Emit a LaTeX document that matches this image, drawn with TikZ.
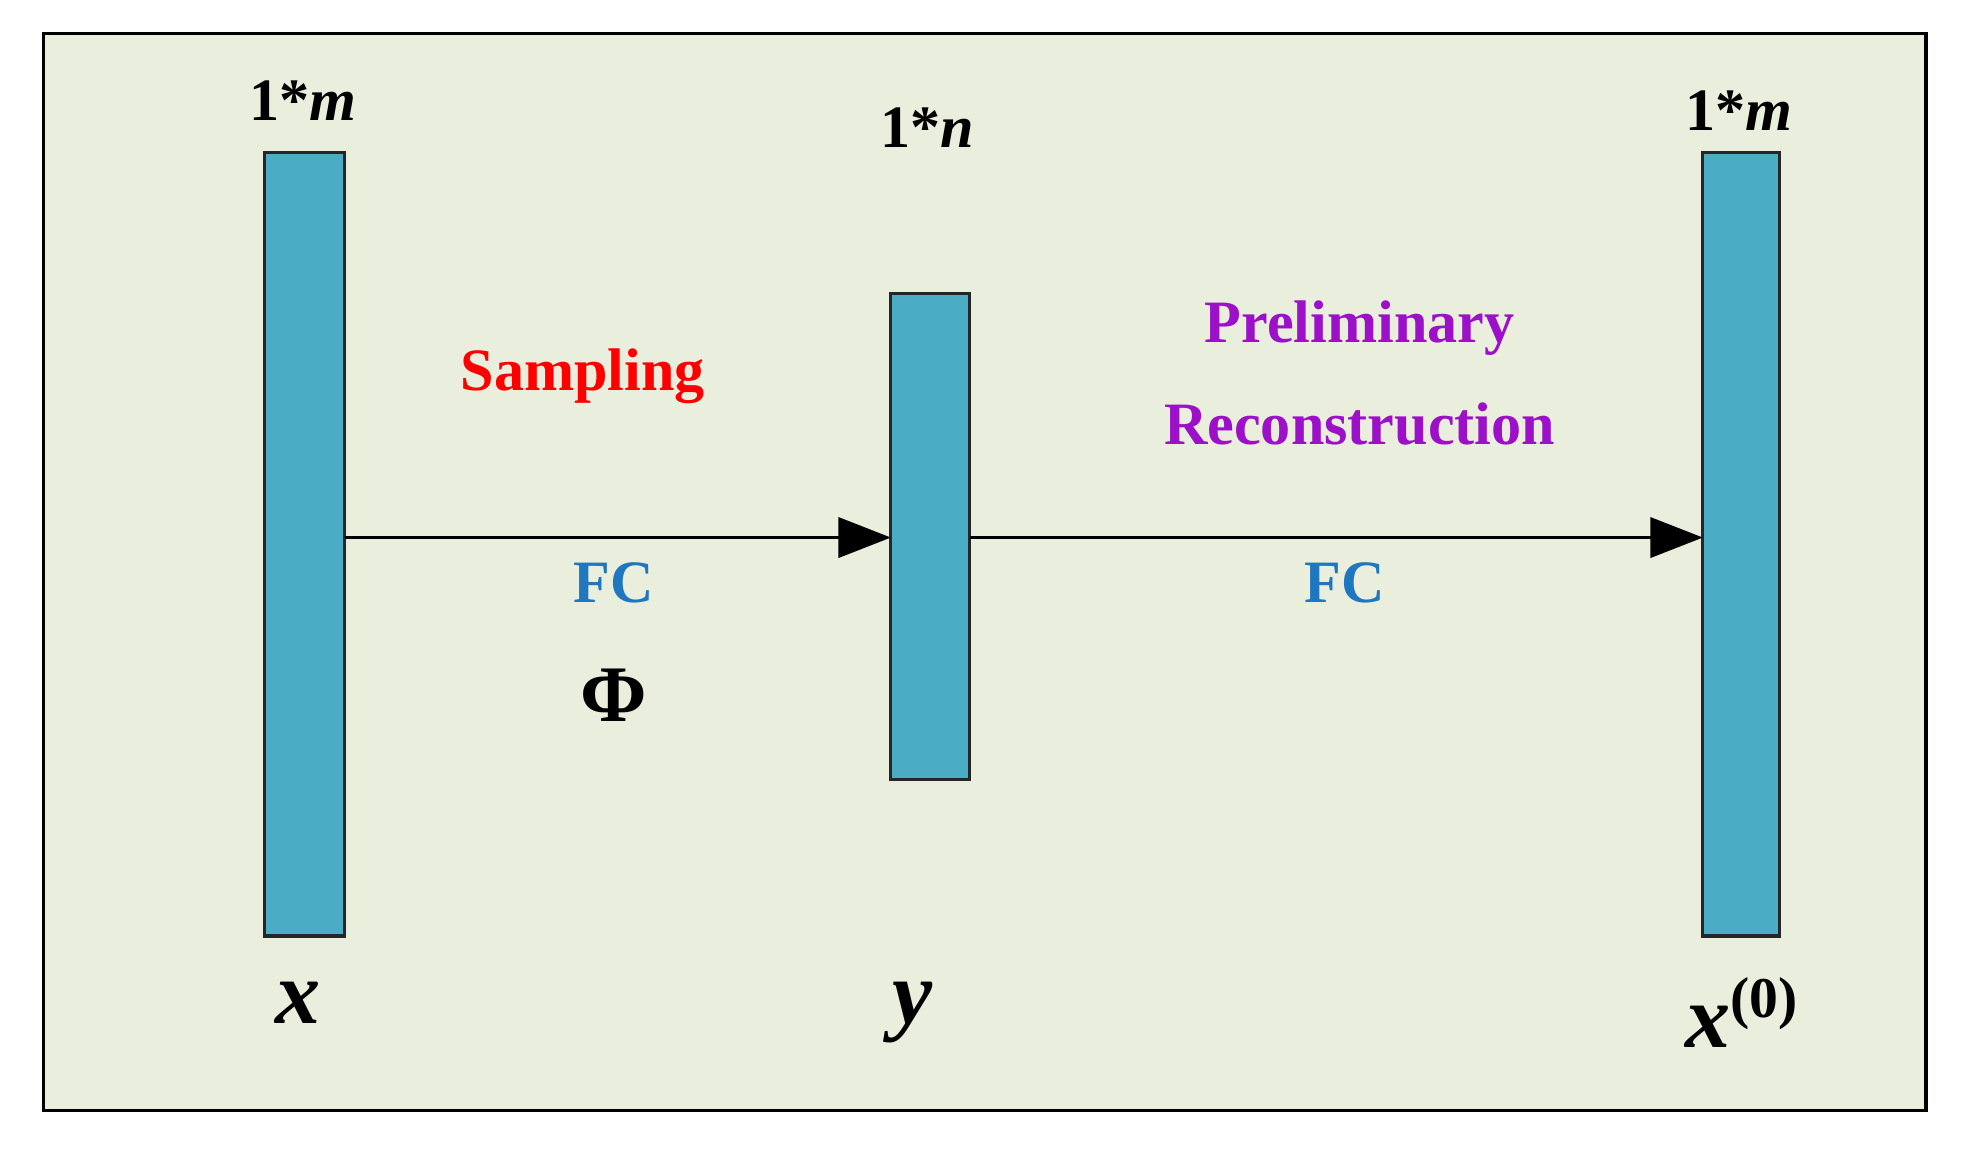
\documentclass[tikz,border=0pt]{standalone}
\usepackage{fontspec}
\setmainfont{Liberation Serif}
\usetikzlibrary{arrows.meta}
\definecolor{bg}{HTML}{EAEEDD}
\definecolor{bar}{HTML}{4BACC6}
\definecolor{fcblue}{HTML}{1F77C0}
\definecolor{purp}{HTML}{9B10C8}
\tikzset{
  barbox/.style={draw=black!85, line width=2.5pt, fill=bar},
  lbl/.style={font=\fontsize{48}{52}\selectfont\bfseries},
  var/.style={font=\fontsize{72}{76}\selectfont\bfseries\itshape},
  arr/.style={line width=3pt, -{Triangle[length=42pt,width=32pt]}}
}
\begin{document}
\begin{tikzpicture}[x=1pt,y=-1pt]
\useasboundingbox (0,0) rectangle (1565,917);
\draw[fill=bg, line width=2.5pt] (35,27) rectangle (1537,886);
\path[barbox] (211,122) rectangle (275,747);
\path[barbox] (711,234) rectangle (774,622);
\path[barbox] (1359,122) rectangle (1420,747);
\coordinate (a1) at (275,429);
\coordinate (b1) at (711,429);
\coordinate (a2) at (774,429);
\coordinate (b2) at (1359,429);
\draw[arr] (a1) -- (b1);
\draw[arr] (a2) -- (b2);
\node[lbl] (m1) at (242,80) {1*\textit{m}};
\node[lbl] (n1) at (740,102) {1*\textit{n}};
\node[lbl] (m2) at (1388,88) {1*\textit{m}};
\node[lbl, text=red] (s) at (465,300) {Sampling};
\node[lbl, text=purp] (p) at (1085,262) {Preliminary};
\node[lbl, text=purp] (r) at (1085,338) {Reconstruction};
\node[lbl, text=fcblue] (f1) at (490,465) {FC};
\node[lbl, text=fcblue] (f2) at (1073,465) {FC};
\node[font=\fontsize{64}{68}\selectfont\bfseries] (phi) at (490,555) {Φ};
\node[var] (x) at (238,800) {x};
\node[var] (y) at (728,808) {y};
\node[var] (x0) at (1390,808) {x\raisebox{24pt}{\fontsize{46}{50}\selectfont\upshape(0)}};
\end{tikzpicture}
\end{document}
